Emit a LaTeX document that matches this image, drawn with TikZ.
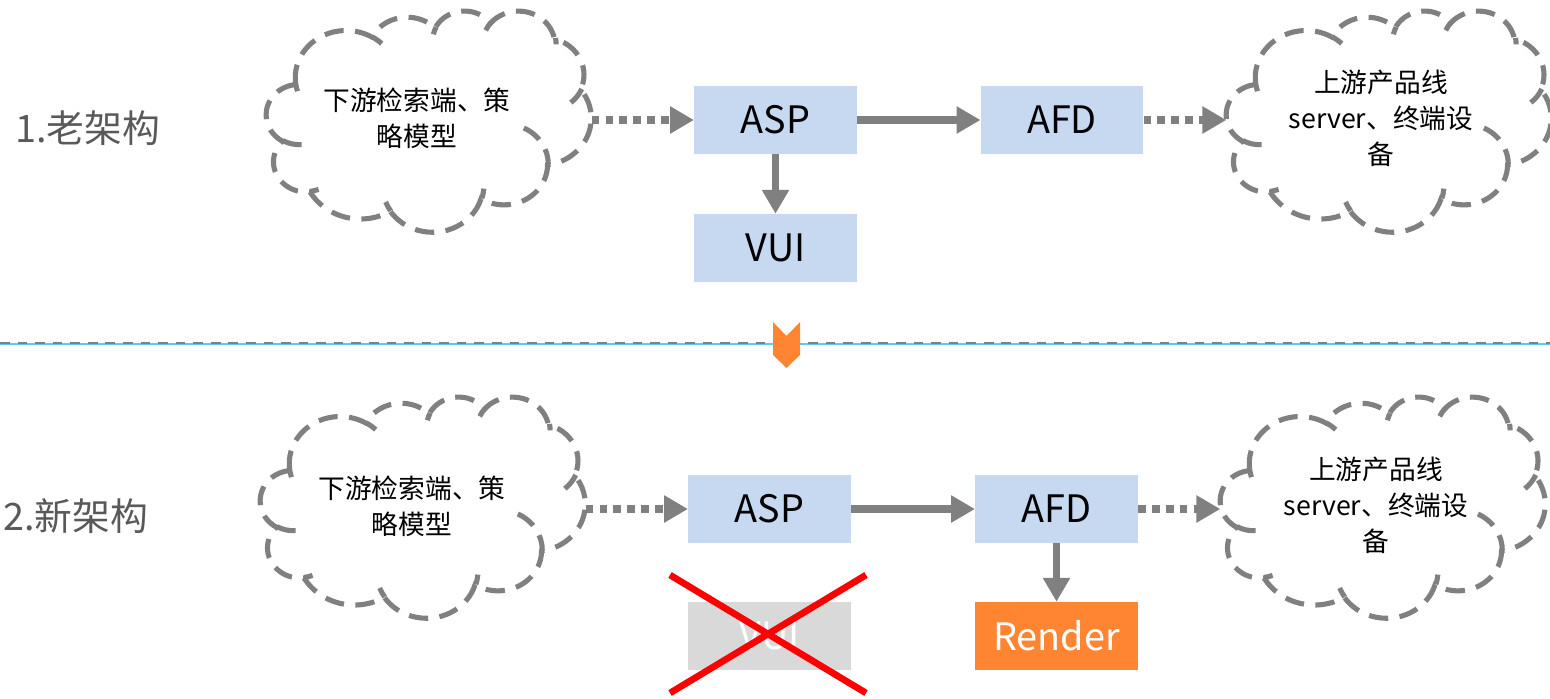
\documentclass[tikz,border=0pt]{standalone}
\usepackage{fontspec}
\setmainfont{Noto Sans CJK SC}
\usetikzlibrary{arrows.meta}
\definecolor{boxblue}{HTML}{C6D9F0}
\definecolor{linegray}{HTML}{808080}
\definecolor{labelgray}{HTML}{595959}
\definecolor{renderorange}{HTML}{FF8533}
\definecolor{mutedgray}{HTML}{D9D9D9}
\definecolor{sepblue}{HTML}{5BC8F5}

% cloud frame: 326 x 222 units, path space 432 x 432
\newcommand\cSX{0.75463}
\newcommand\cSY{0.51389}
% elliptic arc given by radii, start angle and sweep (y pointing down)
\newcommand\ooarccalc[4]{%
  \pgfmathsetmacro\ooTa{atan2((#1)*sin(#3),(#2)*cos(#3))}%
  \pgfmathsetmacro\ooTb{atan2((#1)*sin((#3)+(#4)),(#2)*cos((#3)+(#4)))}%
  \pgfmathsetmacro\ooD{(\ooTb)-(\ooTa)}%
  \pgfmathsetmacro\ooD{ifthenelse(\ooD<0,(\ooD)+360,\ooD)}%
  \pgfmathsetmacro\ooSAl{0-(\ooTa)}%
  \pgfmathsetmacro\ooDAl{0-(\ooD)}%
  \pgfmathsetmacro\ooRXl{(#1)*\cSX*0.5669}%
  \pgfmathsetmacro\ooRYl{(#2)*\cSY*0.5669}%
  \xdef\ooSA{\ooSAl}\xdef\ooDA{\ooDAl}\xdef\ooRX{\ooRXl}\xdef\ooRY{\ooRYl}%
}
\newcommand\ooarc[4]{\pgfextra{\ooarccalc{#1}{#2}{#3}{#4}}
  arc[start angle=\ooSA, delta angle=\ooDA, x radius=\ooRX pt, y radius=\ooRY pt]}
\newcommand\cpt[3]{([shift={(#2*\cSX,#3*\cSY)}]#1.north west)}
\newcommand\cloudshape[1]{%
  \draw[cloudline] \cpt{#1}{39.00}{143.70}
    \ooarc{67.53}{91.90}{-190.4875}{123.7805}
    \ooarc{53.33}{72.67}{-144.1024}{89.9452}
    \ooarc{43.65}{59.45}{-145.8079}{99.7230}
    \ooarc{48.57}{65.95}{-130.9861}{117.2417}
    \ooarc{53.33}{72.73}{-78.7089}{109.0269}
    \ooarc{67.75}{92.20}{-46.2673}{130.2690}
    \ooarc{57.85}{78.67}{0.6250}{114.0333}
    \ooarc{67.52}{92.15}{22.4516}{115.1726}
    \ooarc{77.20}{105.43}{66.2426}{75.7110}
    \ooarc{43.60}{59.18}{-274.9421}{146.7356}
    \ooarc{43.45}{59.45}{-246.8285}{152.5189}
    -- cycle;
  \draw[cloudline]
    \cpt{#1}{46.93}{261.77} \ooarc{43.45}{59.45}{86.7420}{26.4295}
    \cpt{#1}{69.28}{348.99} \ooarc{43.60}{59.18}{73.6105}{11.4475}
    \cpt{#1}{164.78}{390.90} \ooarc{67.52}{92.15}{137.6242}{14.0811}
    \cpt{#1}{288.27}{347.51} \ooarc{67.52}{92.15}{6.4533}{15.9984}
    \cpt{#1}{341.29}{229.54} \ooarc{57.85}{78.67}{-70.2924}{70.9174}
    \cpt{#1}{417.98}{153.54} \ooarc{53.33}{72.73}{30.3180}{27.7515}
    \cpt{#1}{383.24}{54.26} \ooarc{48.57}{65.95}{-13.7443}{14.8589}
    \cpt{#1}{290.78}{39.52} \ooarc{48.57}{65.95}{-149.1815}{18.1954}
    \cpt{#1}{221.41}{47.20} \ooarc{43.65}{59.45}{-163.4943}{17.6864}
    \cpt{#1}{140.00}{51.92} \ooarc{67.53}{91.90}{-66.7070}{12.3194}
    \cpt{#1}{41.27}{157.89} \ooarc{67.53}{91.90}{157.6544}{11.8582};
}

\tikzset{
  box/.style={fill=boxblue, minimum width=92.4pt, minimum height=38.6pt,
    inner sep=0pt, font=\fontsize{21.5}{25}\selectfont},
  cloudframe/.style={minimum width=184.8pt, minimum height=125.9pt, inner sep=0pt},
  cloudtext/.style={align=center, inner sep=0pt, font=\fontsize{15.2}{20.4}\selectfont},
  cloudline/.style={draw=linegray, line width=2.9pt, dash pattern=on 11pt off 6.5pt},
  flow/.style={draw=linegray, line width=4.2pt,
    -{Triangle[length=13.6pt,width=14.7pt]}},
  dotflow/.style={flow, dash pattern=on 4.4pt off 3.5pt},
  rowlabel/.style={anchor=west, inner sep=0pt, text=labelgray,
    font=\fontsize{21.5}{26}\selectfont},
  cross/.style={draw=red, line width=3.8pt}
}
\begin{document}
\begin{tikzpicture}[x=0.02cm,y=-0.02cm]
\useasboundingbox (0,0) rectangle (1550,699);

% ---------- old architecture ----------
\node[rowlabel] (lab1) at (15,128) {1.老架构};
\node[cloudframe] (srcA) at (429,121) {};
\node[cloudtext] (srcAtxt) at (417,118) {下游检索端、策\\略模型};
\node[box] (aspA) at (775.5,120) {ASP};
\node[box] (afdA) at (1062,120) {AFD};
\node[box] (vuiA) at (775.5,248) {VUI};
\node[cloudframe] (dstA) at (1389,121) {};
\node[cloudtext] (dstAtxt) at (1381,118) {上游产品线\\server、终端设\\备};
\cloudshape{srcA}
\cloudshape{dstA}

\draw[dotflow] (srcA.east |- aspA.west) -- (aspA.west);
\draw[flow] (aspA) -- (afdA);
\draw[dotflow] (afdA.east) -- (afdA.east -| dstA.west);
\draw[flow] (aspA) -- (vuiA);

% ---------- separator ----------
\coordinate (sepL) at (0,343);
\coordinate (sepR) at (1550,343);
\draw[sepblue, line width=0.8pt] ([yshift=-0.6pt]sepL) -- ([yshift=-0.6pt]sepR);
\draw[linegray, line width=1.6pt, dash pattern=on 5.5pt off 4.5pt] (sepL) -- (sepR);
\fill[renderorange] (773,322) -- (786.5,336) -- (800,322) -- (800,355)
  -- (786.5,368) -- (773,355) -- cycle;

% ---------- new architecture ----------
\node[rowlabel] (lab2) at (3,516) {2.新架构};
\node[cloudframe] (srcB) at (423,507) {};
\node[cloudtext] (srcBtxt) at (412,506) {下游检索端、策\\略模型};
\node[box] (aspB) at (769.5,509) {ASP};
\node[box] (afdB) at (1056.5,509) {AFD};
\node[box, fill=mutedgray, text=white] (vuiB) at (769.5,636) {VUI};
\node[box, fill=renderorange, text=white] (render) at (1056.5,636) {Render};
\node[cloudframe] (dstB) at (1383,507) {};
\node[cloudtext] (dstBtxt) at (1376,505) {上游产品线\\server、终端设\\备};
\cloudshape{srcB}
\cloudshape{dstB}

\draw[dotflow] (srcB.east |- aspB.west) -- (aspB.west);
\draw[flow] (aspB) -- (afdB);
\draw[dotflow] (afdB.east) -- (afdB.east -| dstB.west);
\draw[flow] (afdB) -- (render);

% crossed-out VUI
\coordinate (xa) at (670,575);
\coordinate (xb) at (866,693);
\coordinate (xc) at (670,693);
\coordinate (xd) at (866,575);
\draw[cross] (xa) -- (xb);
\draw[cross] (xc) -- (xd);
\end{tikzpicture}
\end{document}
